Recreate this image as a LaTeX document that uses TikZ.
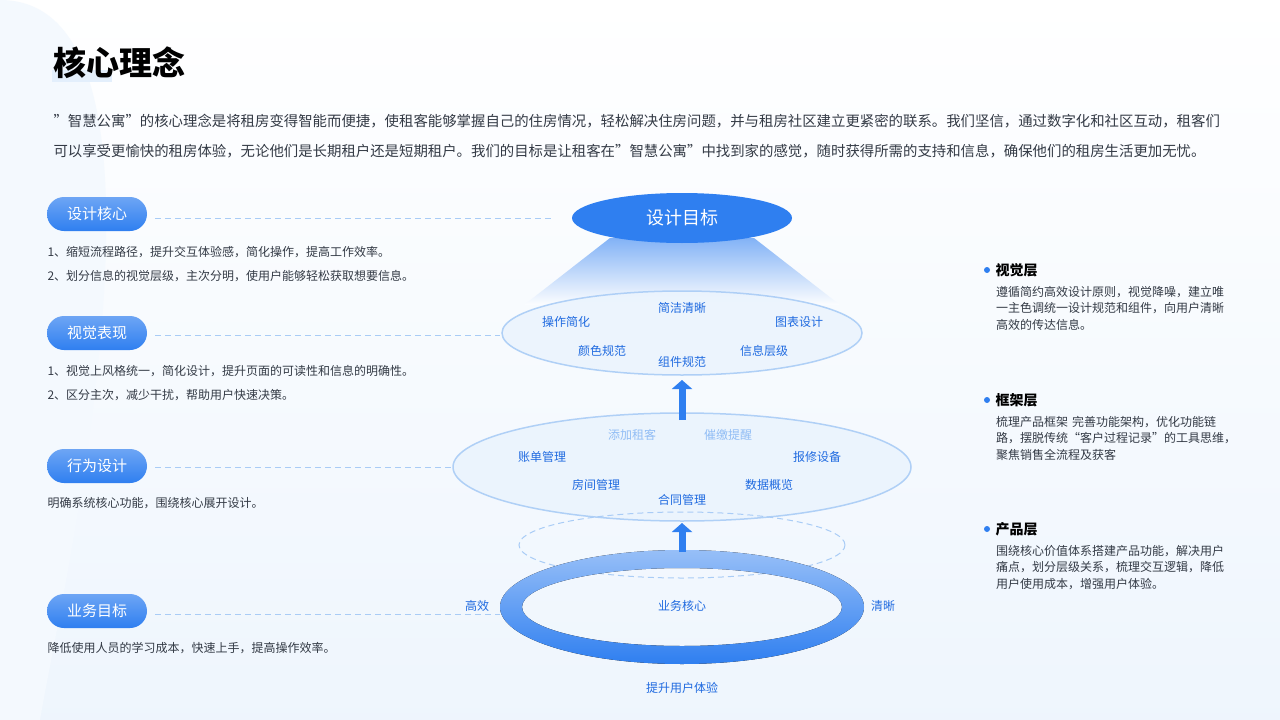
\documentclass[tikz,border=0pt]{standalone}
\usepackage{fontspec}
\setmainfont{Noto Sans CJK SC}
\usetikzlibrary{arrows.meta,shapes.geometric}
\definecolor{mainblue}{HTML}{2F7FF0}
\definecolor{darkblue}{HTML}{1F6AE0}
\definecolor{txt}{HTML}{333A45}
\definecolor{lblue}{HTML}{A9CCF6}
\definecolor{pale}{HTML}{E3EFFC}
\newcommand{\sq}{\char34\relax}
\tikzset{
 pill/.style={rounded corners=17pt,minimum width=100pt,minimum height=34pt,text=white,font=\fontsize{15}{15}\selectfont,top color=mainblue!70!white,bottom color=mainblue,draw=none},
 body/.style={anchor=west,text=txt,font=\fontsize{12}{12}\selectfont},
 dashln/.style={draw=lblue,line width=1pt,dash pattern=on 6pt off 4pt},
 lab/.style={text=darkblue,font=\fontsize{12}{12}\selectfont},
 labl/.style={text=lblue!80!mainblue,font=\fontsize{12}{12}\selectfont},
 head/.style={anchor=west,text=black,font=\fontsize{14}{14}\selectfont\bfseries},
 rtxt/.style={anchor=north west,text=txt,align=left,font=\fontsize{12}{16.5}\selectfont,text width=240pt,inner sep=0pt},
 uparrow/.style={-{Triangle[width=20pt,length=9pt]},line width=7pt,draw=mainblue}
}
\begin{document}
\begin{tikzpicture}[x=1pt,y=-1pt]
\useasboundingbox (0,0) rectangle (1280,720);
\fill[top color=white,bottom color=pale!60] (0,0) rectangle (1280,720);
\fill[pale!40] (0,0) .. controls (200,0) and (60,600) .. (40,720) -- (0,720) -- cycle;
% title
\fill[pale] (52,70) rectangle (112,82);
\node[anchor=west,text=black,font=\fontsize{33}{33}\selectfont\bfseries] (title) at (50,63) {核心理念};
\node[anchor=west,text=txt,font=\fontsize{14.4}{14.4}\selectfont] (p1) at (50,121) {\sq 智慧公寓\sq 的核心理念是将租房变得智能而便捷，使租客能够掌握自己的住房情况，轻松解决住房问题，并与租房社区建立更紧密的联系。我们坚信，通过数字化和社区互动，租客们};
\node[anchor=west,text=txt,font=\fontsize{14.4}{14.4}\selectfont] (p2) at (50,151) {可以享受更愉快的租房体验，无论他们是长期租户还是短期租户。我们的目标是让租客在\sq 智慧公寓\sq 中找到家的感觉，随时获得所需的支持和信息，确保他们的租房生活更加无忧。};
% cone
\shade[top color=mainblue!60,bottom color=pale!10] (610,238) -- (754,238) -- (840,305) -- (524,305) -- cycle;
% ellipses
\node[ellipse,draw=lblue,line width=1.5pt,fill=pale!70,minimum width=360pt,minimum height=84pt,opacity=0.9] (e2) at (682,333) {};
\node[ellipse,draw=lblue,line width=1.5pt,fill=pale!70,minimum width=458pt,minimum height=108pt,opacity=0.9] (e3) at (682,467) {};
\node[ellipse,dashln,minimum width=326pt,minimum height=66pt] (e4) at (682,545) {};
\node[ellipse,fill=mainblue,minimum width=220pt,minimum height=50pt,text=white,font=\fontsize{18}{18}\selectfont] (e1) at (682,218) {设计目标};
% ring
\fill[even odd rule,top color=mainblue!50,bottom color=mainblue] (682,607) ellipse [x radius=182,y radius=57] (682,607) ellipse [x radius=160,y radius=39];
\node[lab] (core) at (682,606) {业务核心};
\node[lab] (gx) at (477,606) {高效};
\node[lab] (qx) at (883,606) {清晰};
\node[lab] (ty) at (682,688) {提升用户体验};
% arrows
\coordinate (a1) at (682,420);\coordinate (a1t) at (682,380);
\coordinate (a2) at (682,552);\coordinate (a2t) at (682,523);
\draw[uparrow] (a1) -- (a1t);
\draw[uparrow] (a2) -- (a2t);
% labels in e2
\node[lab] at (682,308) {简洁清晰};
\node[lab] at (566,322) {操作简化};
\node[lab] at (799,322) {图表设计};
\node[lab] at (602,351) {颜色规范};
\node[lab] at (764,351) {信息层级};
\node[lab] at (682,362) {组件规范};
% labels in e3
\node[labl] at (632,435) {添加租客};
\node[labl] at (728,435) {催缴提醒};
\node[lab] at (542,457) {账单管理};
\node[lab] at (817,457) {报修设备};
\node[lab] at (596,485) {房间管理};
\node[lab] at (769,485) {数据概览};
\node[lab] at (682,500) {合同管理};
% left pills
\node[pill] (s1) at (97,214) {设计核心};
\node[pill] (s2) at (97,333) {视觉表现};
\node[pill] (s3) at (97,466) {行为设计};
\node[pill] (s4) at (97,611) {业务目标};
\coordinate (d1) at (552,218);\coordinate (d2) at (500,335);\coordinate (d3) at (452,467);\coordinate (d4) at (500,614);
\draw[dashln] (s1.east|-d1) ++(8,0) -- (d1);
\draw[dashln] (s2.east|-d2) ++(8,0) -- (d2);
\draw[dashln] (s3.east|-d3) ++(8,0) -- (d3);
\draw[dashln] (s4.east|-d4) ++(8,0) -- (d4);
\node[body] at (44,252) {1、缩短流程路径，提升交互体验感，简化操作，提高工作效率。};
\node[body] at (44,276) {2、划分信息的视觉层级，主次分明，使用户能够轻松获取想要信息。};
\node[body] at (44,371) {1、视觉上风格统一，简化设计，提升页面的可读性和信息的明确性。};
\node[body] at (44,395) {2、区分主次，减少干扰，帮助用户快速决策。};
\node[body] at (44,503) {明确系统核心功能，围绕核心展开设计。};
\node[body] at (44,648) {降低使用人员的学习成本，快速上手，提高操作效率。};
% right
\fill[mainblue] (987,270) circle (3);
\fill[mainblue] (987,400) circle (3);
\fill[mainblue] (987,529) circle (3);
\node[head] at (992,270) {视觉层};
\node[head] at (992,400) {框架层};
\node[head] at (992,529) {产品层};
\node[rtxt] at (996,286) {遵循简约高效设计原则，视觉降噪，建立唯\\一主色调统一设计规范和组件，向用户清晰\\高效的传达信息。};
\node[rtxt] at (996,416) {梳理产品框架 完善功能架构，优化功能链\\路，摆脱传统“客户过程记录”的工具思维，\\聚焦销售全流程及获客};
\node[rtxt] at (996,545) {围绕核心价值体系搭建产品功能，解决用户\\痛点，划分层级关系，梳理交互逻辑，降低\\用户使用成本，增强用户体验。};
\end{tikzpicture}
\end{document}
